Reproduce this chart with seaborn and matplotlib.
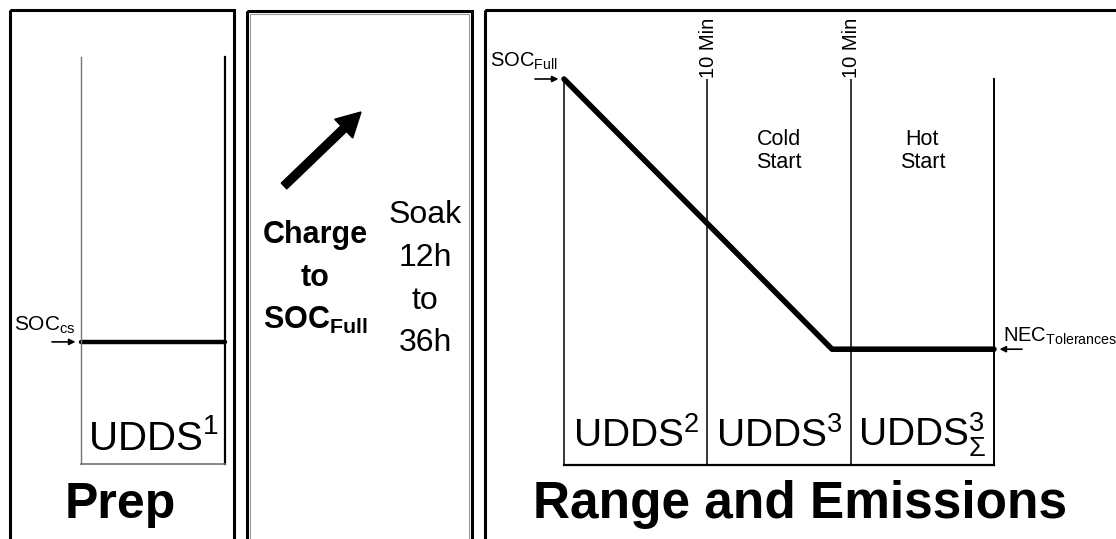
import numpy as np
import pandas as pd
import seaborn as sns
import matplotlib.pyplot as plt
from matplotlib.patches import Rectangle, FancyArrow

# data
prep_cycle = [0, 1]
prep_soc = [30, 30]
prep_label = "UDDS$^1$"

range_cycle = [0, 1.87, 3]
range_soc = [100, 30, 30]
range_labels = ["UDDS$^2$", "UDDS$^3$", r"UDDS$^3_\Sigma$"]
phase_labels = ["Cold\nStart", "Hot\nStart"]
wait_marks = [1, 2]
wait_text = "10 Min"

charge_lines = ["Charge", "to", r"SOC$_{\mathbf{Full}}$"]
soak_lines = ["Soak", "12h", "to", "36h"]

W, H = 1116, 539

sns.set_style("white")
plt.rcParams["font.family"] = ["Liberation Sans", "DejaVu Sans"]
plt.rcParams["text.color"] = "black"
plt.rcParams["mathtext.fontset"] = "custom"
plt.rcParams["mathtext.rm"] = "Liberation Sans"
plt.rcParams["mathtext.it"] = "Liberation Sans:italic"
plt.rcParams["mathtext.bf"] = "Liberation Sans:bold"
plt.rcParams["mathtext.sf"] = "Liberation Sans"

fig = plt.figure(figsize=(W / 100, H / 100), dpi=100, facecolor="white")
bg = fig.add_axes([0, 0, 1, 1])
bg.set_xlim(0, W)
bg.set_ylim(H, 0)
bg.axis("off")


def px_axes(left, top, right, bottom):
    ax = fig.add_axes([left / W, 1 - bottom / H, (right - left) / W, (bottom - top) / H])
    ax.set_facecolor("none")
    return ax


small_arrow = dict(arrowstyle="-|>", lw=1.2, color="black",
                   shrinkA=0, shrinkB=4, mutation_scale=9)

# panel frames
for l, t, r in [(10, 10, 234), (247, 11, 472), (485, 10, 1140)]:
    bg.add_patch(Rectangle((l, t), r - l, 600, fill=False, lw=2.2, ec="black"))
bg.add_patch(Rectangle((250, 14), 219, 600, fill=False, lw=0.8, ec="0.6"))

# ---- Prep panel
ax1 = px_axes(81, 57, 225, 464)
sns.lineplot(x=prep_cycle, y=prep_soc, ax=ax1, color="black", lw=3.2)
ax1.set(xlim=(0, 1), ylim=(0, 100), xticks=[], yticks=[], xlabel="", ylabel="")
ax1.spines["top"].set_visible(False)
ax1.spines["left"].set(color="0.45", lw=1.0)
ax1.spines["bottom"].set(color="0.45", lw=1.2)
ax1.spines["right"].set(color="black", lw=1.6)
for ln in ax1.lines:
    ln.set_clip_on(False)
ax1.text(0.5, 0.034, prep_label, transform=ax1.get_xaxis_transform(),
         ha="center", va="baseline", fontsize=29)
ax1.annotate("", xy=(0, prep_soc[0]), xytext=(-29, 0), textcoords="offset pixels",
             arrowprops=small_arrow)
bg.text(14, 331, "SOC$_{\\mathrm{cs}}$", ha="left", va="baseline", fontsize=15)
bg.text(120, 518, "Prep", ha="center", va="baseline", fontsize=36, fontweight="bold")

# ---- Charge / soak panel
bg.add_patch(FancyArrow(284, 186, 77, -74, width=8, head_width=26, head_length=24,
                        length_includes_head=True, color="black"))
for s, y in zip(charge_lines, [243, 286, 329]):
    bg.text(315, y, s, ha="center", va="baseline", fontsize=22, fontweight="bold")
for s, y in zip(soak_lines, [223, 266, 309, 351]):
    bg.text(425, y, s, ha="center", va="baseline", fontsize=23)

# ---- Range and emissions panel
ax3 = px_axes(564, 79, 994, 465)
sns.lineplot(x=range_cycle, y=range_soc, ax=ax3, color="black", lw=4)
ax3.set(xlim=(0, 3), ylim=(0, 100), xticks=[], yticks=[], xlabel="", ylabel="")
ax3.spines["top"].set_visible(False)
ax3.spines["left"].set(color="black", lw=1.1)
ax3.spines["right"].set(color="black", lw=1.4)
ax3.spines["bottom"].set(color="black", lw=1.6)
for ln in ax3.lines:
    ln.set_clip_on(False)
for c in wait_marks:
    ax3.axvline(c, color="black", lw=1.1)
    ax3.annotate(wait_text, xy=(c, 1), xycoords=ax3.get_xaxis_transform(),
                 xytext=(1, 1), textcoords="offset pixels", rotation=90,
                 ha="center", va="bottom", fontsize=14.5)
for i, lab in enumerate(range_labels):
    ax3.text(i + 0.5, 0.047, lab, transform=ax3.get_xaxis_transform(),
             ha="center", va="baseline", fontsize=28)
for i, lab in enumerate(phase_labels):
    ax3.text(i + 1.5, 0.813, lab, transform=ax3.get_xaxis_transform(),
             ha="center", va="center", fontsize=15.5, linespacing=1.1)
ax3.annotate("", xy=(0, range_soc[0]), xytext=(-29, 0), textcoords="offset pixels",
             arrowprops=small_arrow)
ax3.annotate("", xy=(3, range_soc[-1]), xytext=(28, 0), textcoords="offset pixels",
             arrowprops=small_arrow)
bg.text(490, 67, "SOC$_{\\mathrm{Full}}$", ha="left", va="baseline", fontsize=14.5)
bg.text(1003, 342, "NEC$_{\\mathrm{Tolerances}}$", ha="left", va="baseline", fontsize=14.5)
bg.text(800, 518, "Range and Emissions", ha="center", va="baseline",
        fontsize=37, fontweight="bold")

fig.savefig("out.png", dpi=100)
